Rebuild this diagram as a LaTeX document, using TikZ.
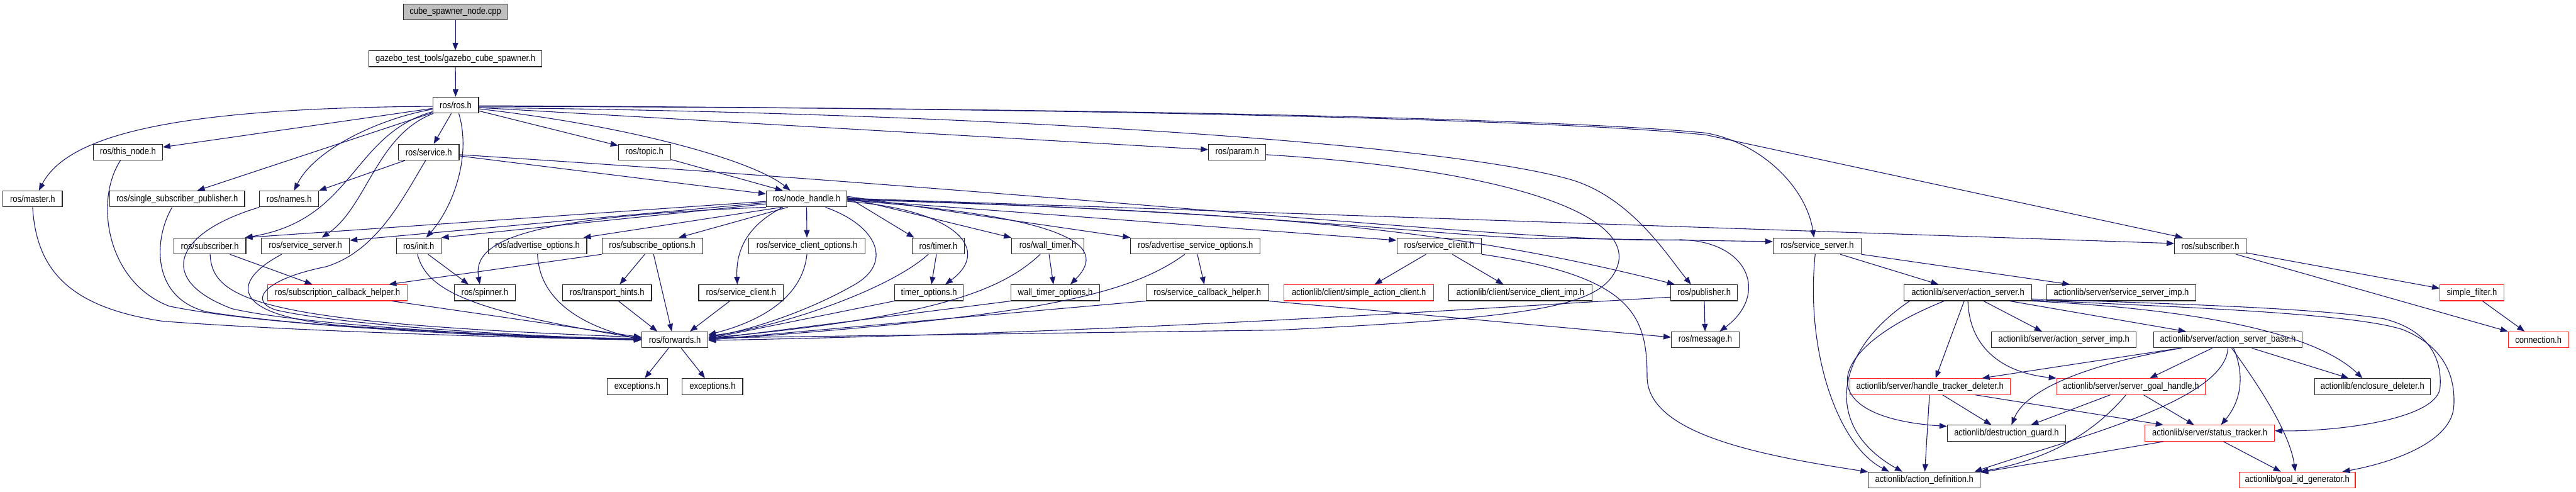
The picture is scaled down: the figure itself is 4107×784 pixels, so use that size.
\documentclass[tikz,border=0pt]{standalone}
\usepackage{fontspec}
\setmainfont{Liberation Sans}[FakeStretch=0.87]
\usetikzlibrary{arrows.meta}
\definecolor{edgecol}{HTML}{191970}
\definecolor{redb}{HTML}{FF2020}
\definecolor{grayfill}{HTML}{BFBFBF}
\begin{document}
\begin{tikzpicture}[x=1pt,y=-1pt,
  box/.style={draw=black!85, line width=1.1pt, fill=white, minimum height=25.5pt, inner sep=0pt, font=\fontsize{15}{18}\selectfont, text=black},
  redbox/.style={box, draw=redb},
  graybox/.style={box, fill=grayfill},
  edge/.style={draw=edgecol, line width=1.1pt, -{Triangle[length=12pt,width=9pt]}},
]
\fill[white] (0,0) rectangle (4107,784);
\useasboundingbox (0,0) rectangle (4107,784);

% nodes
\node[graybox, minimum width=166pt] (cpp) at (726,19) {cube\_spawner\_node.cpp};
\node[box, minimum width=276pt] (gz) at (726,93.5) {gazebo\_test\_tools/gazebo\_cube\_spawner.h};
\node[box, minimum width=73pt] (ros) at (726.5,167.5) {ros/ros.h};
\node[box, minimum width=110pt] (thisnode) at (204,242.5) {ros/this\_node.h};
\node[box, minimum width=97pt] (service) at (683.5,242.5) {ros/service.h};
\node[box, minimum width=83pt] (topic) at (1027.5,242.5) {ros/topic.h};
\node[box, minimum width=91pt] (param) at (1972.5,242.5) {ros/param.h};
\node[box, minimum width=94.5pt] (master) at (52,317) {ros/master.h};
\node[box, minimum width=215pt] (ssp) at (282.5,317) {ros/single\_subscriber\_publisher.h};
\node[box, minimum width=94pt] (names) at (461,317) {ros/names.h};
\node[box, minimum width=128.5pt] (nh) at (1286,317) {ros/node\_handle.h};
\node[box, minimum width=115pt] (subL) at (334.5,392) {ros/subscriber.h};
\node[box, minimum width=140.5pt] (ssL) at (487,392) {ros/service\_server.h};
\node[box, minimum width=71pt] (init) at (667.5,392) {ros/init.h};
\node[box, minimum width=157pt] (advopt) at (857,392) {ros/advertise\_options.h};
\node[box, minimum width=160.5pt] (subopt) at (1040,392) {ros/subscribe\_options.h};
\node[box, minimum width=185pt] (scopt) at (1286.5,392) {ros/service\_client\_options.h};
\node[box, minimum width=84pt] (timer) at (1496,392) {ros/timer.h};
\node[box, minimum width=115pt] (wtimer) at (1670.5,392) {ros/wall\_timer.h};
\node[box, minimum width=206.5pt] (asopt) at (1906,392) {ros/advertise\_service\_options.h};
\node[box, minimum width=135pt] (scR) at (2294.5,392) {ros/service\_client.h};
\node[box, minimum width=140pt] (ssR) at (2897,392) {ros/service\_server.h};
\node[box, minimum width=114pt] (subR) at (3524,392) {ros/subscriber.h};
\node[redbox, minimum width=222.5pt] (sch) at (538,466.5) {ros/subscription\_callback\_helper.h};
\node[box, minimum width=97pt] (spinner) at (773,466.5) {ros/spinner.h};
\node[box, minimum width=141.5pt] (thints) at (968,466.5) {ros/transport\_hints.h};
\node[box, minimum width=135pt] (scL) at (1181.5,466.5) {ros/service\_client.h};
\node[box, minimum width=110pt] (topt) at (1481,466.5) {timer\_options.h};
\node[box, minimum width=141pt] (wtopt) at (1682.5,466.5) {wall\_timer\_options.h};
\node[box, minimum width=195.5pt] (sch2) at (1925,466.5) {ros/service\_callback\_helper.h};
\node[redbox, minimum width=239pt] (sac) at (2166.5,466.5) {actionlib/client/simple\_action\_client.h};
\node[box, minimum width=228pt] (scimp) at (2424,466.5) {actionlib/client/service\_client\_imp.h};
\node[box, minimum width=106pt] (pub) at (2717,466.5) {ros/publisher.h};
\node[box, minimum width=203pt] (asrv) at (3137.5,466.5) {actionlib/server/action\_server.h};
\node[box, minimum width=238pt] (ssimp) at (3382,466.5) {actionlib/server/service\_server\_imp.h};
\node[redbox, minimum width=102pt] (sfilter) at (3941,466.5) {simple\_filter.h};
\node[box, minimum width=105.7pt] (fwd) at (1076,541.5) {ros/forwards.h};
\node[box, minimum width=108pt] (msg) at (2718.7,541.5) {ros/message.h};
\node[box, minimum width=231pt] (asimp) at (3290.5,541.5) {actionlib/server/action\_server\_imp.h};
\node[box, minimum width=236.5pt] (asbase) at (3552,541.5) {actionlib/server/action\_server\_base.h};
\node[redbox, minimum width=96pt] (conn) at (4047,541.5) {connection.h};
\node[box, minimum width=96pt] (exc1) at (1016,616) {exceptions.h};
\node[box, minimum width=96.4pt] (exc2) at (1136,616) {exceptions.h};
\node[redbox, minimum width=256pt] (htd) at (3077,616) {actionlib/server/handle\_tracker\_deleter.h};
\node[redbox, minimum width=237pt] (sgh) at (3397.5,616) {actionlib/server/server\_goal\_handle.h};
\node[box, minimum width=185pt] (encl) at (3782.5,616) {actionlib/enclosure\_deleter.h};
\node[box, minimum width=188.7pt] (dguard) at (3199,690.5) {actionlib/destruction\_guard.h};
\node[redbox, minimum width=206.4pt] (stracker) at (3523,690.5) {actionlib/server/status\_tracker.h};
\node[box, minimum width=178.5pt] (adef) at (3068,765) {actionlib/action\_definition.h};
\node[redbox, minimum width=185pt] (gidgen) at (3662.5,765) {actionlib/goal\_id\_generator.h};

% edges: top chain
\draw[edge] (cpp) -- (gz);
\draw[edge] (gz) -- (ros);
% from ros.h
\draw[edge] ([yshift=-2]ros.west) .. controls (300,172) and (110,210) .. ([xshift=10]master.north);
\draw[edge] (ros) -- (thisnode);
\draw[edge] (ros) -- ([xshift=32]ssp.north);
\draw[edge] (ros) .. controls (600,190) and (500,240) .. ([xshift=8]names.north);
\draw[edge] (ros) .. controls (560,215) and (565,350) .. ([xshift=-2]subL.north east);
\draw[edge] (ros) .. controls (600,215) and (585,330) .. ([xshift=26]ssL.north);
\draw[edge] ([xshift=5]ros.south) .. controls (752,250) and (722,330) .. ([xshift=12]init.north);
\draw[edge] ([xshift=-7]ros.south) -- ([xshift=8]service.north);
\draw[edge] (ros) -- (topic);
\draw[edge] ([yshift=-4]ros.east) -- ([yshift=4]param.west);
\draw[edge] ([yshift=-6]ros.east) .. controls (1000,200) and (1200,255) .. ([xshift=-26]nh.north);
\draw[edge] ([yshift=-2]ros.east) .. controls (1800,172) and (2500,190) .. (2720,212) .. controls (2810,228) and (2880,300) .. ([xshift=-5]ssR.north);
\draw[edge] ([yshift=-1]ros.east) .. controls (1800,173) and (2500,192) .. (2720,215) -- ([xshift=-44]subR.north);
\draw[edge] ([yshift=-4]ros.east) .. controls (1600,180) and (2300,230) .. (2500,285) .. controls (2600,312) and (2660,410) .. ([xshift=-21]pub.north);
% from service.h
\draw[edge] (service) -- (names.north east);
\draw[edge] (service) -- ([yshift=8]nh.west);
\draw[edge] ([xshift=-5]service.south) .. controls (640,320) and (600,400) .. (520,425) .. controls (420,445) and (395,480) .. (440,494) .. controls (550,520) and (900,540) .. ([yshift=2]fwd.west);
\draw[edge] ([yshift=-4]service.east) .. controls (1800,315) and (2450,390) .. (2680,382) .. controls (2790,385) and (2820,470) .. ([xshift=23]msg.north);
% topic, param
\draw[edge] (topic) -- ([xshift=-38]nh.north);
\draw[edge] ([yshift=-4]param.east) .. controls (2400,270) and (2600,340) .. (2580,420) .. controls (2560,490) and (2450,505) .. (2040,526) -- ([yshift=3]fwd.east);
% from node_handle.h
\draw[edge] ([yshift=-4]nh.west) -- ([xshift=-2]subL.north east);
\draw[edge] ([yshift=-6]nh.west) -- ([yshift=9]ssL.east);
\draw[edge] ([yshift=-8]nh.west) -- (init.north east);
\draw[edge] (nh.south west) .. controls (850,345) and (752,380) .. ([xshift=-8]spinner.north);
\draw[edge] ([xshift=-40]nh.south) -- ([xshift=73]advopt.north);
\draw[edge] ([xshift=-30]nh.south) -- ([xshift=42]subopt.north);
\draw[edge] (nh) -- (scopt);
\draw[edge] ([xshift=-38]nh.south) .. controls (1190,360) and (1173,400) .. ([xshift=-6]scL.north);
\draw[edge] ([xshift=30]nh.south) .. controls (1400,360) and (1425,420) .. (1360,455) .. controls (1290,495) and (1200,525) .. ([yshift=4]fwd.east);
\draw[edge] ([yshift=3]nh.east) -- ([xshift=4]timer.north west);
\draw[edge] ([yshift=2]nh.east) -- (wtimer.north west);
\draw[edge] ([yshift=4]nh.east) -- (asopt.north west);
\draw[edge] ([yshift=-4]nh.east) .. controls (1530,335) and (1580,400) .. ([xshift=26]topt.north);
\draw[edge] ([yshift=-2]nh.east) .. controls (1700,345) and (1770,390) .. ([xshift=24]wtopt.north);
\draw[edge] ([yshift=-1]nh.east) -- ([yshift=9]scR.west);
\draw[edge] ([yshift=1]nh.east) -- ([yshift=4]subR.west);
\draw[edge] (nh.east) .. controls (2100,340) and (2350,385) .. (2500,380) -- ([yshift=7]ssR.west);
\draw[edge] ([yshift=-1]nh.east) .. controls (2000,338) and (2300,360) .. ([xshift=-47]pub.north);
% left group into forwards
\draw[edge] (master.south) .. controls (58,430) and (110,490) .. (260,512) .. controls (500,530) and (900,540) .. (fwd.west);
\draw[edge] ([xshift=-12]thisnode.south) .. controls (150,320) and (170,450) .. (270,488) .. controls (450,525) and (900,540) .. (fwd.west);
\draw[edge] ([xshift=-8]ssp.south) .. controls (245,380) and (240,475) .. (330,497) .. controls (500,525) and (900,540) .. (fwd.west);
\draw[edge] (names.south west) .. controls (280,370) and (245,445) .. (370,492) .. controls (500,522) and (900,540) .. (fwd.west);
\draw[edge] (subL) .. controls (338,480) and (420,515) .. ([yshift=4]fwd.west);
\draw[edge] ([xshift=32]subL.south) -- ([xshift=-40]sch.north);
\draw[edge] ([xshift=-38]ssL.south) .. controls (365,450) and (365,505) .. (560,520) .. controls (800,535) and (950,540) .. ([yshift=3]fwd.west);
\draw[edge] ([xshift=-2]init.south) .. controls (680,460) and (740,495) .. ([yshift=2]fwd.west);
\draw[edge] ([xshift=15]init.south) -- ([xshift=-26]spinner.north);
\draw[edge] ([xshift=87]sch.south) -- ([yshift=4]fwd.west);
\draw[edge] (advopt.south) .. controls (860,480) and (930,520) .. (fwd.west);
\draw[edge] ([xshift=-12]subopt.south) -- ([xshift=20]thints.north);
\draw[edge] ([xshift=2]subopt.south) -- ([xshift=-5]fwd.north);
\draw[edge] (subopt.south west) -- ([xshift=82]sch.north);
\draw[edge] ([xshift=18]thints.south) -- ([xshift=-28]fwd.north);
\draw[edge] ([xshift=-18]scL.south) -- ([xshift=24]fwd.north);
% right group into forwards
\draw[edge] (scopt.south) .. controls (1280,470) and (1220,510) .. ([yshift=8]fwd.east);
\draw[edge] ([xshift=-3]timer.south) -- ([xshift=4]topt.north);
\draw[edge] ([xshift=-16]timer.south) .. controls (1420,460) and (1250,520) .. ([yshift=6]fwd.east);
\draw[edge] (topt.south west) -- ([yshift=2]fwd.east);
\draw[edge] ([xshift=2]wtimer.south) -- ([xshift=-3]wtopt.north);
\draw[edge] ([xshift=-12]wtimer.south) .. controls (1600,460) and (1500,505) .. ([yshift=3]fwd.east);
\draw[edge] (wtopt.south west) -- ([yshift=1]fwd.east);
\draw[edge] ([xshift=3]asopt.south) -- ([xshift=-5]sch2.north);
\draw[edge] ([xshift=-17]asopt.south) .. controls (1800,470) and (1650,505) .. (fwd.east);
\draw[edge] (sch2.south west) -- (fwd.east);
\draw[edge] (sch2.south east) -- ([yshift=4]msg.west);
\draw[edge] ([yshift=-7]pub.west) .. controls (2300,495) and (1800,530) .. ([yshift=-1]fwd.east);
\draw[edge] (pub) -- (msg);
% service_client (right)
\draw[edge] ([xshift=-21]scR.south) -- ([xshift=25]sac.north);
\draw[edge] ([xshift=21]scR.south) -- ([xshift=-27]scimp.north);
\draw[edge] (scR.south east) .. controls (2600,440) and (2626,500) .. (2626,600) .. controls (2626,690) and (2800,725) .. ([yshift=13]adef.west);
% service_server (right)
\draw[edge] ([xshift=-3]ssR.south) .. controls (2878,560) and (2930,710) .. ([xshift=-56]adef.north);
\draw[edge] ([xshift=37]ssR.south) -- ([xshift=-47]asrv.north);
\draw[edge] (ssR.south east) -- ([xshift=-82]ssimp.north);
% action_server.h
\draw[edge] ([xshift=-93]asrv.south) .. controls (2925,560) and (2905,680) .. ([xshift=-35]adef.north);
\draw[edge] ([xshift=-38]asrv.south) .. controls (2900,560) and (2890,665) .. ([yshift=11]dguard.west);
\draw[edge] ([xshift=-6]asrv.south) -- ([xshift=9]htd.north);
\draw[edge] (asrv.south) .. controls (3140,560) and (3200,595) .. (sgh.north west);
\draw[edge] ([xshift=25]asrv.south) -- ([xshift=-35]asimp.north);
\draw[edge] ([xshift=67]asrv.south) -- ([xshift=-67]asbase.north);
\draw[edge] (asrv.south east) .. controls (3450,490) and (3680,520) .. ([xshift=-16]encl.north);
\draw[edge] ([yshift=-10]asrv.east) .. controls (3500,485) and (3700,492) .. (3800,508) .. controls (3870,525) and (3895,570) .. (3890,620) .. controls (3880,670) and (3720,688) .. ([yshift=4]stracker.east);
\draw[edge] ([yshift=-12]asrv.east) .. controls (3500,490) and (3750,500) .. (3830,525) .. controls (3905,555) and (3915,610) .. (3912,650) .. controls (3905,710) and (3800,740) .. ([xshift=72]gidgen.north);
% action_server_base.h
\draw[edge] ([xshift=-76]asbase.south) -- ([xshift=83]htd.north);
\draw[edge] ([xshift=-74]asbase.south) .. controls (3330,580) and (3230,620) .. ([xshift=8]dguard.north);
\draw[edge] ([xshift=-25]asbase.south) -- ([xshift=30]sgh.north);
\draw[edge] (asbase.south) .. controls (3548,640) and (3300,700) .. ([xshift=80]adef.north);
\draw[edge] ([xshift=9]asbase.south) .. controls (3580,600) and (3572,640) .. ([xshift=18]stracker.north);
\draw[edge] ([xshift=6]asbase.south) .. controls (3620,640) and (3652,700) .. ([xshift=-3]gidgen.north);
\draw[edge] ([xshift=38]asbase.south) -- ([xshift=-38]encl.north);
% lower actionlib
\draw[edge] (htd) -- (adef);
\draw[edge] ([xshift=20]htd.south) -- ([xshift=-24]dguard.north);
\draw[edge] ([xshift=72]htd.south) -- ([xshift=-74]stracker.north);
\draw[edge] ([xshift=-33]sgh.south) -- ([xshift=39]dguard.north);
\draw[edge] ([xshift=-8]sgh.south) .. controls (3330,700) and (3250,735) .. (adef.north east);
\draw[edge] ([xshift=20]sgh.south) -- ([xshift=-25]stracker.north);
\draw[edge] ([xshift=-74]stracker.south) -- ([yshift=12]adef.east);
\draw[edge] ([xshift=22]stracker.south) -- ([xshift=-26]gidgen.north);
% subscriber (right)
\draw[edge] ([yshift=-11]subR.east) -- ([yshift=7]sfilter.west);
\draw[edge] ([xshift=41]subR.south) -- (conn.north west);
\draw[edge] ([xshift=17]sfilter.south) -- ([xshift=-22]conn.north);
% forwards
\draw[edge] ([xshift=-10]fwd.south) -- ([xshift=12]exc1.north);
\draw[edge] ([xshift=10]fwd.south) -- ([xshift=-12]exc2.north);
\end{tikzpicture}
\end{document}
